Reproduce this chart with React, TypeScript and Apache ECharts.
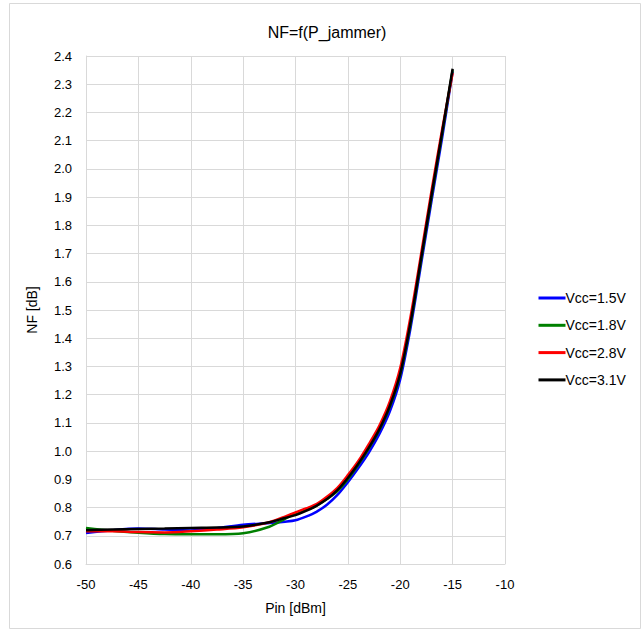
import React, { useEffect, useRef } from "react";
import * as echarts from "echarts";

const pinValues = [-50, -47.5, -45, -42.5, -40, -37.5, -35, -32.5, -31, -30, -29, -28, -27, -26, -25, -24, -23, -22, -21, -20, -19, -18, -17, -16, -15];

const nfVcc15 = [0.71, 0.72, 0.726, 0.722, 0.719, 0.727, 0.739, 0.745, 0.75, 0.755, 0.768, 0.785, 0.81, 0.845, 0.89, 0.94, 0.995, 1.06, 1.14, 1.255, 1.44, 1.665, 1.89, 2.11, 2.345];
const nfVcc18 = [0.728, 0.718, 0.711, 0.706, 0.705, 0.705, 0.709, 0.732, 0.76, 0.78, 0.792, 0.807, 0.83, 0.858, 0.9, 0.952, 1.01, 1.075, 1.157, 1.272, 1.455, 1.68, 1.905, 2.125, 2.35];
const nfVcc28 = [0.716, 0.716, 0.713, 0.712, 0.716, 0.722, 0.73, 0.748, 0.768, 0.783, 0.797, 0.812, 0.838, 0.87, 0.915, 0.965, 1.025, 1.09, 1.175, 1.295, 1.48, 1.7, 1.925, 2.14, 2.34];
const nfVcc31 = [0.72, 0.722, 0.724, 0.726, 0.728, 0.729, 0.733, 0.748, 0.763, 0.773, 0.788, 0.806, 0.83, 0.862, 0.905, 0.955, 1.012, 1.077, 1.16, 1.275, 1.46, 1.685, 1.91, 2.13, 2.355];

const seriesNames = ["Vcc=1.5V", "Vcc=1.8V", "Vcc=2.8V", "Vcc=3.1V"];
const seriesColors = ["#0000ff", "#008000", "#ff0000", "#000000"];
const seriesValues = [nfVcc15, nfVcc18, nfVcc28, nfVcc31];

const FONT = "Liberation Sans, Arial, sans-serif";

export default function App() {
  const ref = useRef<HTMLDivElement>(null);
  useEffect(() => {
    if (!ref.current) return;
    const chart = echarts.init(ref.current, null, { renderer: "svg" });
    chart.setOption({
      animation: false,
      backgroundColor: "#ffffff",
      title: {
        text: "NF=f(P_jammer)",
        left: 322,
        top: 19,
        textAlign: "center",
        textStyle: { fontFamily: FONT, fontSize: 16, fontWeight: "normal", color: "#000000" },
      },
      graphic: [
        {
          type: "rect",
          shape: { x: 9.5, y: 3.5, width: 631, height: 625 },
          style: { fill: "none", stroke: "#d9d9d9", lineWidth: 1 },
          silent: true,
        },
      ],
      legend: {
        orient: "vertical",
        left: 532,
        top: 286,
        itemWidth: 27,
        itemHeight: 14,
        itemGap: 13.3,
        itemStyle: { opacity: 0 },
        lineStyle: { width: 3 },
        textStyle: { fontFamily: FONT, fontSize: 14, color: "#000000", padding: [0, 0, 0, -5] },
        data: seriesNames,
      },
      grid: { left: 86, right: 139, top: 56, bottom: 67, containLabel: false },
      xAxis: {
        type: "value",
        min: -50,
        max: -10,
        interval: 5,
        name: "Pin [dBm]",
        nameLocation: "middle",
        nameGap: 37,
        nameTextStyle: { fontFamily: FONT, fontSize: 14, color: "#000000" },
        axisLine: { show: true, onZero: false, lineStyle: { color: "#d9d9d9" } },
        axisTick: { show: false },
        axisLabel: { fontFamily: FONT, fontSize: 13, color: "#000000", margin: 14 },
        splitLine: { show: true, lineStyle: { color: "#d9d9d9", width: 1 } },
      },
      yAxis: {
        type: "value",
        min: 0.6,
        max: 2.4,
        interval: 0.1,
        name: "NF [dB]",
        nameLocation: "middle",
        nameGap: 47,
        nameTextStyle: { fontFamily: FONT, fontSize: 14, color: "#000000" },
        axisLine: { show: true, lineStyle: { color: "#d9d9d9" } },
        axisTick: { show: false },
        axisLabel: {
          fontFamily: FONT,
          fontSize: 13,
          color: "#000000",
          margin: 14,
          formatter: (v: number) => v.toFixed(1),
        },
        splitLine: { show: true, lineStyle: { color: "#d9d9d9", width: 1 } },
      },
      series: seriesNames.map((name, i) => ({
        name,
        type: "line",
        smooth: 0.3,
        symbol: "none",
        showSymbol: false,
        color: seriesColors[i],
        lineStyle: { color: seriesColors[i], width: 2.5 },
        data: pinValues.map((x, j) => [x, seriesValues[i][j]]),
      })),
    });
    return () => chart.dispose();
  }, []);
  return (
    <div
      ref={ref}
      style={{ position: "absolute", left: 0, top: 0, width: 644, height: 631 }}
    />
  );
}
